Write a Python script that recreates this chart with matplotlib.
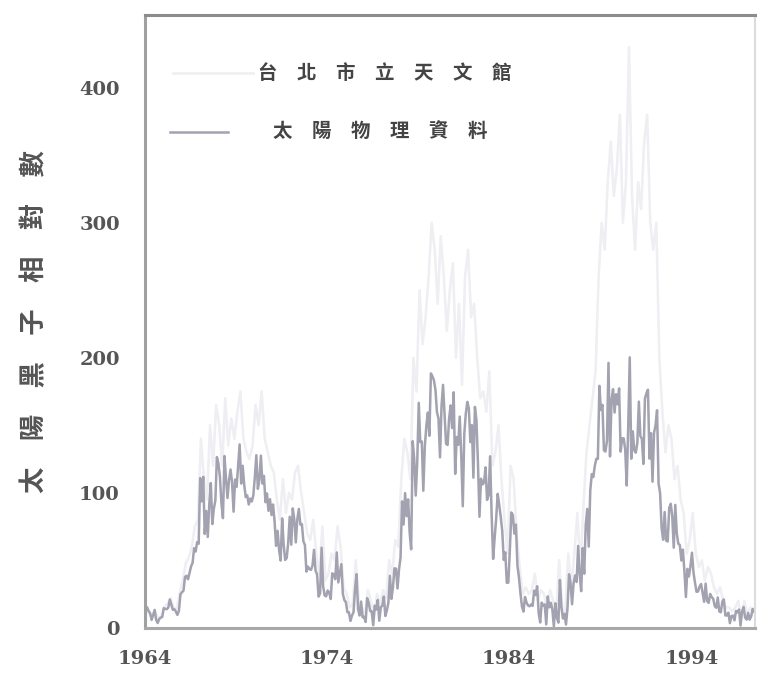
import numpy as np
import matplotlib
matplotlib.use("Agg")
import matplotlib.pyplot as plt

plt.rcParams['font.family'] = ['Noto Sans CJK TC', 'DejaVu Sans']

# monthly sunspot numbers (solar physics data), Jan 1964 .. Jun 1997
solar_monthly = [
    15.6, 15.2, 12.4, 10.9, 5.8, 9.4, 13.2, 5.8, 3.5, 6.4, 7.5, 8.0,          # 1964
    14.5, 14.0, 13.8, 15.0, 20.9, 17.0, 13.3, 13.7, 12.0, 9.5, 12.6, 24.8,    # 1965
    26.3, 27.4, 37.6, 38.5, 35.9, 40.6, 45.5, 48.1, 58.9, 56.4, 63.5, 62.2,   # 1966
    110.9, 93.6, 111.8, 69.5, 86.5, 67.3, 91.5, 107.2, 76.8, 88.2, 94.3, 126.4,  # 1967
    121.8, 111.9, 92.2, 81.2, 127.2, 110.3, 96.1, 109.3, 117.2, 107.7, 86.0, 109.8,  # 1968
    104.4, 120.5, 135.8, 106.8, 120.0, 106.0, 96.8, 98.0, 91.3, 95.7, 93.5, 97.9,  # 1969
    111.5, 127.8, 102.9, 109.5, 127.5, 106.8, 112.5, 93.0, 99.5, 86.6, 95.2, 83.5,  # 1970
    91.3, 79.0, 60.7, 71.8, 57.5, 49.8, 81.0, 61.4, 50.2, 51.7, 63.2, 82.2,   # 1971
    61.5, 88.4, 80.1, 63.2, 80.5, 88.0, 76.5, 76.8, 64.0, 61.3, 41.6, 45.3,   # 1972
    43.4, 42.9, 46.0, 57.7, 42.4, 39.5, 23.1, 25.6, 59.3, 30.7, 23.9, 23.3,   # 1973
    27.6, 26.0, 21.3, 40.3, 39.5, 36.0, 55.8, 33.6, 40.2, 47.1, 25.0, 20.5,   # 1974
    18.9, 11.5, 11.5, 5.1, 9.0, 11.4, 28.2, 39.7, 13.9, 9.1, 19.4, 7.8,       # 1975
    8.1, 4.3, 21.9, 18.8, 12.4, 12.2, 1.9, 16.4, 13.5, 20.6, 5.2, 15.3,       # 1976
    16.4, 23.1, 8.7, 12.9, 18.6, 38.5, 21.4, 30.1, 44.0, 43.8, 29.1, 43.2,    # 1977
    51.9, 93.6, 76.5, 99.7, 82.7, 95.1, 70.4, 58.1, 138.2, 125.1, 97.9, 122.7,  # 1978
    166.6, 137.5, 138.0, 101.5, 134.4, 149.5, 159.4, 142.2, 188.4, 186.2, 183.3, 176.3,  # 1979
    159.6, 155.0, 126.2, 164.1, 179.9, 157.3, 136.3, 135.4, 155.0, 164.7, 147.9, 174.4,  # 1980
    114.0, 141.3, 135.5, 156.4, 127.5, 90.0, 143.8, 158.7, 167.3, 162.4, 137.5, 150.1,  # 1981
    111.2, 163.6, 153.8, 122.0, 82.2, 110.4, 106.1, 107.6, 118.8, 94.7, 98.1, 127.0,  # 1982
    84.3, 51.0, 66.5, 80.7, 99.2, 91.1, 82.2, 71.8, 50.3, 55.8, 33.3, 33.4,   # 1983
    57.0, 85.4, 83.5, 69.7, 76.4, 46.1, 37.4, 25.5, 15.7, 12.0, 22.8, 18.7,   # 1984
    16.5, 15.9, 17.2, 16.2, 27.5, 24.2, 30.7, 11.1, 3.9, 18.6, 16.2, 17.3,    # 1985
    2.5, 23.2, 15.1, 18.5, 13.7, 1.1, 18.1, 7.4, 3.8, 35.4, 15.2, 6.8,        # 1986
    10.4, 2.4, 14.7, 39.6, 33.0, 17.4, 33.0, 38.7, 33.9, 60.6, 39.9, 27.1,    # 1987
    59.0, 40.0, 76.2, 88.0, 60.1, 101.8, 113.8, 111.6, 120.1, 125.1, 125.1, 179.2,  # 1988
    161.3, 165.1, 131.4, 130.5, 138.5, 196.2, 126.9, 168.9, 176.7, 159.4, 173.0, 165.5,  # 1989
    177.3, 130.5, 140.3, 140.3, 132.2, 105.4, 149.4, 200.3, 125.2, 145.5, 131.4, 129.7,  # 1990
    136.9, 167.5, 141.9, 140.0, 121.3, 169.7, 173.7, 176.3, 125.3, 144.1, 108.2, 144.4,  # 1991
    150.0, 161.1, 106.7, 99.8, 73.8, 65.2, 85.7, 64.5, 63.9, 88.7, 91.8, 82.6,  # 1992
    59.3, 91.0, 69.8, 62.2, 61.3, 49.8, 57.9, 42.3, 22.8, 43.6, 38.0, 45.7,   # 1993
    55.6, 40.9, 33.3, 26.6, 26.9, 30.5, 32.4, 25.6, 19.2, 32.7, 19.7, 18.4,   # 1994
    25.0, 22.7, 21.5, 15.9, 14.8, 22.4, 12.1, 11.5, 19.3, 21.0, 9.1, 9.1,     # 1995
    11.2, 3.4, 8.7, 9.0, 5.5, 12.5, 11.4, 13.5, 1.6, 12.0, 15.4, 7.6,         # 1996
    6.0, 11.0, 6.0, 8.5, 14.0, 12.0,                                          # 1997
]

# Taipei observatory counts, every two months, Jan 1964 .. May 1997
taipei_bimonthly = [
    14, 10, 8, 12, 6, 9,            # 1964
    16, 18, 22, 15, 14, 26,         # 1965
    35, 48, 52, 60, 75, 80,         # 1966
    140, 110, 95, 150, 120, 165,    # 1967
    150, 120, 170, 135, 155, 140,   # 1968
    160, 175, 140, 130, 125, 135,   # 1969
    165, 150, 175, 140, 130, 120,   # 1970
    115, 95, 80, 110, 85, 100,      # 1971
    95, 115, 120, 100, 85, 70,      # 1972
    65, 80, 55, 40, 75, 35,         # 1973
    40, 55, 50, 75, 60, 30,         # 1974
    25, 15, 18, 50, 20, 15,         # 1975
    10, 28, 20, 8, 25, 18,          # 1976
    28, 22, 50, 40, 65, 60,         # 1977
    110, 140, 130, 110, 200, 175,   # 1978
    250, 210, 230, 260, 300, 280,   # 1979
    240, 290, 260, 220, 250, 270,   # 1980
    200, 240, 180, 260, 280, 230,   # 1981
    240, 200, 170, 175, 160, 190,   # 1982
    120, 130, 150, 110, 80, 55,     # 1983
    120, 110, 70, 45, 25, 30,       # 1984
    25, 28, 40, 20, 28, 25,         # 1985
    15, 28, 20, 10, 50, 15,         # 1986
    12, 55, 30, 55, 85, 45,         # 1987
    90, 130, 150, 170, 190, 260,    # 1988
    300, 280, 330, 360, 320, 340,   # 1989
    380, 300, 330, 430, 320, 280,   # 1990
    330, 310, 360, 380, 300, 280,   # 1991
    300, 200, 160, 130, 150, 140,   # 1992
    110, 120, 95, 85, 55, 65,       # 1993
    85, 55, 45, 50, 35, 45,         # 1994
    40, 30, 25, 30, 20, 15,         # 1995
    15, 12, 15, 20, 8, 20,          # 1996
    10, 15, 12,                     # 1997
]

x_ticks = [1964, 1974, 1984, 1994]
y_ticks = [0, 100, 200, 300, 400]
label_taipei = "台\u3000北\u3000市\u3000立\u3000天\u3000文\u3000館"
label_solar = "太\u3000陽\u3000物\u3000理\u3000資\u3000料"
y_label = "太\u3000陽\u3000黑\u3000子\u3000相\u3000對\u3000數"

t_solar = 1964 + (np.arange(len(solar_monthly)) + 0.5) / 12
t_taipei = 1964 + (np.arange(len(taipei_bimonthly)) + 0.5) / 6

fig = plt.figure(figsize=(7.58, 6.75), dpi=100)
ax = fig.add_axes([0.191, 0.070, 0.805, 0.908])

faint = '#eeeef3'
solid = '#a2a2b0'
ax.plot(t_taipei, taipei_bimonthly, color=faint, lw=1.8)
ax.plot(t_solar, solar_monthly, color=solid, lw=1.8)

ax.set_xlim(1964, 1997.5)
ax.set_ylim(0, 454)
ax.set_xticks(x_ticks)
ax.set_xticklabels([str(v) for v in x_ticks], family='DejaVu Serif', fontsize=14,
                   fontweight='bold', color='#555555')
ax.set_yticks(y_ticks)
ax.set_yticklabels([str(v) for v in y_ticks], family='DejaVu Serif', fontsize=14,
                   fontweight='bold', color='#555555')
ax.tick_params(length=0)
ax.tick_params(axis='y', pad=18)
ax.tick_params(axis='x', pad=16)

for side, c, w in [('left', '#a0a0a0', 2.2), ('bottom', '#a8a8a8', 2.2),
                   ('top', '#8c8c8c', 2.2), ('right', '#dcdcdc', 1.5)]:
    ax.spines[side].set_color(c)
    ax.spines[side].set_linewidth(w)

ax.set_ylabel(y_label, fontsize=19, color='#555555', fontweight='bold', labelpad=22)

# hand-placed legend
ax.plot([0.046, 0.177], [0.905, 0.905], transform=ax.transAxes, color=faint, lw=1.8)
ax.text(0.185, 0.905, label_taipei, transform=ax.transAxes, fontsize=14,
        color='#444444', fontweight='bold', va='center')
ax.plot([0.041, 0.136], [0.809, 0.809], transform=ax.transAxes, color=solid, lw=1.8)
ax.text(0.21, 0.809, label_solar, transform=ax.transAxes, fontsize=14,
        color='#444444', fontweight='bold', va='center')

fig.savefig('out.png', dpi=100)
